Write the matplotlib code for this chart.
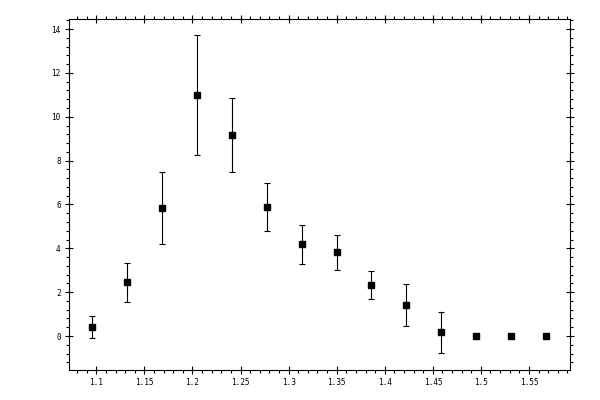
import matplotlib
matplotlib.use('Agg')
import matplotlib.pyplot as plt
from matplotlib.ticker import MultipleLocator

# data
xVals = [1.0958, 1.1321, 1.1684, 1.2047, 1.2410, 1.2773, 1.3136,
         1.3499, 1.3862, 1.4225, 1.4588, 1.4951, 1.5314, 1.5677]
yVals = [0.40, 2.45, 5.82, 10.98, 9.15, 5.87, 4.18,
         3.82, 2.31, 1.40, 0.17, 0.0, 0.0, 0.0]
yErr = [0.50, 0.89, 1.64, 2.74, 1.69, 1.10, 0.88,
        0.80, 0.64, 0.96, 0.93, 0.0, 0.0, 0.0]

fig = plt.figure(figsize=(6, 4), dpi=100)
ax = fig.add_axes([0.115, 0.075, 0.835, 0.8775])

ax.errorbar(xVals, yVals, yerr=yErr, fmt='s', color='black', ecolor='black',
            markersize=5, elinewidth=0.8, capsize=2, capthick=0.8)

ax.set_xlim(1.0716, 1.5927)
ax.set_ylim(-1.55, 14.46)

ax.xaxis.set_major_locator(MultipleLocator(0.05))
ax.xaxis.set_minor_locator(MultipleLocator(0.01))
ax.yaxis.set_major_locator(MultipleLocator(2))
ax.yaxis.set_minor_locator(MultipleLocator(0.4))
ax.xaxis.set_major_formatter(plt.FuncFormatter(lambda v, p: f"{v:g}"))
ax.yaxis.set_major_formatter(plt.FuncFormatter(lambda v, p: f"{v:g}"))

for s in ax.spines.values():
    s.set_linewidth(0.8)

ax.tick_params(which='major', direction='inout', length=6, width=0.8,
               top=True, right=True, labelsize=5.6, pad=3)
ax.tick_params(which='minor', direction='out', length=2.5, width=0.8,
               top=True, right=True)
for lbl in ax.get_xticklabels() + ax.get_yticklabels():
    lbl.set_family('DejaVu Sans Mono')

fig.savefig('out.png', dpi=100)
